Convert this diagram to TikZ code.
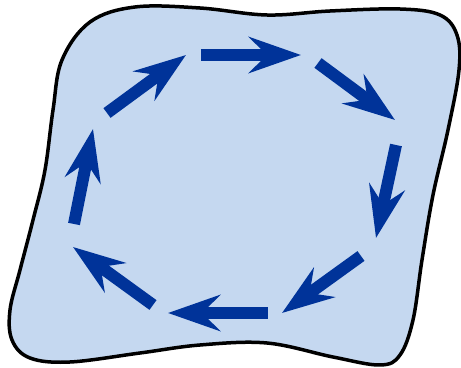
\documentclass[tikz,border=0pt]{standalone}
\usetikzlibrary{arrows.meta}
\definecolor{fondbleu}{RGB}{197,216,240}
\definecolor{flechebleu}{RGB}{0,51,153}
\begin{document}
\begin{tikzpicture}[
    x=0.02cm, y=-0.02cm, % une unité = un pixel, axe y vers le bas
    contour/.style={draw=black, line width=0.07cm, fill=fondbleu},
    fleche/.style={draw=flechebleu, line width=0.24cm,
        -{Stealth[length=1.04cm, width=0.72cm, inset=0.36cm]}}
]
\useasboundingbox (0,0) rectangle (461,368);
% Contour de la surface
\draw[contour] plot[smooth cycle, tension=0.6] coordinates {
    (53,110) (62,60) (90,22) (135,7) (200,8) (267,15) (330,11) (400,9)
    (440,15) (457,35) (459,70) (448,130) (433,195) (422,260) (413,320)
    (400,355) (380,365) (333,357) (267,343) (200,345) (140,353) (70,362)
    (30,358) (12,340) (10,310) (20,270) (33,220) (45,170)};
% Extrémités des flèches
\foreach \nom/\x/\y in {d1/201/55, f1/301/55, d2/318/63, f2/395/120,
    d3/396/145, f3/376/238, d4/361/256, f4/282/313, d5/268/313, f5/168/313,
    d6/153/305, f6/73/247, d7/74/224, f7/93/129, d8/107/113, f8/186/55}
    \coordinate (\nom) at (\x,\y);
% Circulation
\foreach \i in {1,...,8}
    \draw[fleche] (d\i) -- (f\i);
\end{tikzpicture}
\end{document}
